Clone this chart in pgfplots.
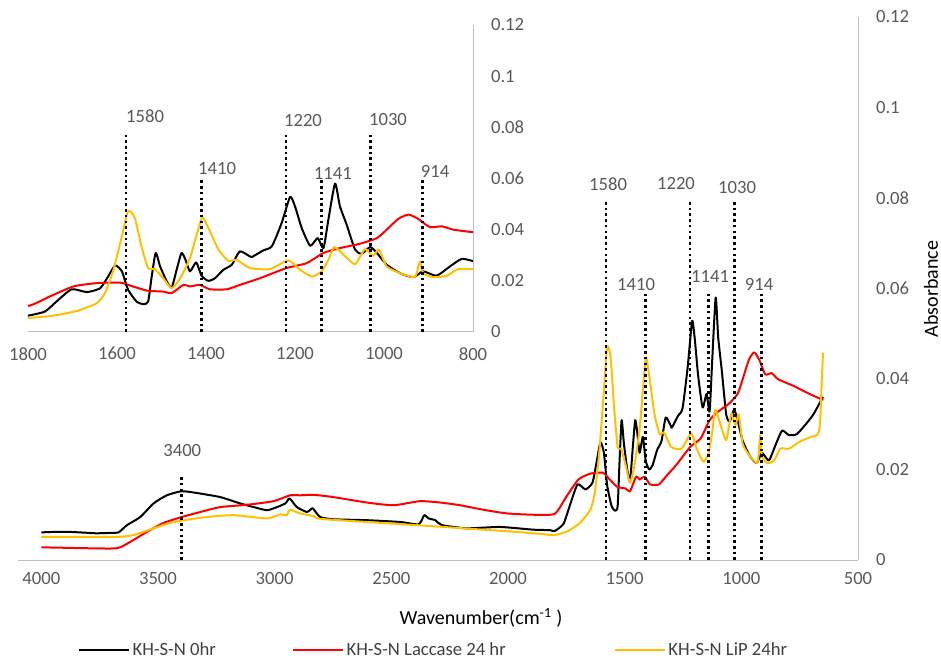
\documentclass[border=0pt]{standalone}
\usepackage{fontspec}
\setmainfont{Carlito}
\usepackage{pgfplots}
\pgfplotsset{compat=1.18}
\usepackage{pgfplotstable}
\definecolor{lineyellow}{RGB}{255,192,0}
\definecolor{linered}{RGB}{255,0,0}
\definecolor{axgray}{RGB}{191,191,191}
\definecolor{txtgray}{RGB}{89,89,89}
\definecolor{legtxt}{RGB}{64,64,64}

\pgfplotstableread{
w v
4000 0.0061
3950 0.0062
3876 0.0062
3800 0.0060
3762 0.0059
3700 0.0060
3669 0.0061
3633 0.0077
3576 0.0095
3519 0.0125
3462 0.0143
3398 0.0152
3333 0.0148
3233 0.0139
3148 0.0125
3090 0.0117
3033 0.0110
2990 0.0117
2954 0.0125
2936 0.0136
2905 0.0117
2862 0.0106
2845 0.0112
2836 0.0114
2805 0.0095
2748 0.0090
2605 0.0088
2462 0.0084
2383 0.0079
2359 0.0099
2341 0.0092
2312 0.0088
2283 0.0077
2176 0.0070
2034 0.0073
1891 0.0067
1820 0.0066
1800 0.0064
1762 0.0080
1736 0.0119
1702 0.0167
1668 0.0156
1638 0.0171
1620 0.0217
1604 0.0260
1589 0.0237
1575 0.0165
1556 0.0119
1541 0.0109
1530 0.0119
1522 0.0217
1513 0.0309
1503 0.0256
1488 0.0197
1477 0.0174
1466 0.0243
1455 0.0309
1446 0.0282
1436 0.0237
1422 0.0272
1410 0.0220
1395 0.0200
1380 0.0210
1361 0.0243
1342 0.0263
1324 0.0315
1301 0.0295
1297 0.0293
1271 0.0319
1252 0.0335
1230 0.0426
1211 0.0528
1200 0.0491
1185 0.0407
1166 0.0337
1149 0.0367
1136 0.0328
1125 0.0439
1110 0.0580
1099 0.0491
1084 0.0420
1065 0.0322
1050 0.0306
1031 0.0332
1016 0.0309
994 0.0263
964 0.0230
934 0.0214
912 0.0237
882 0.0220
852 0.0256
825 0.0286
796 0.0276
763 0.0278
727 0.0298
691 0.0322
656 0.0355
650 0.0360
}\blackdata

\pgfplotstableread{
w v
4000 0.0028
3900 0.0027
3805 0.0026
3676 0.0026
3619 0.0040
3548 0.0062
3476 0.0082
3398 0.0095
3319 0.0106
3233 0.0117
3119 0.0122
3005 0.0130
2934 0.0143
2891 0.0143
2833 0.0144
2748 0.0139
2605 0.0127
2491 0.0121
2377 0.0130
2291 0.0127
2205 0.0121
2105 0.0111
2005 0.0103
1891 0.0100
1800 0.0102
1751 0.0139
1698 0.0178
1646 0.0191
1593 0.0193
1575 0.0184
1533 0.0162
1496 0.0158
1477 0.0152
1451 0.0184
1436 0.0178
1414 0.0184
1391 0.0167
1353 0.0167
1324 0.0184
1279 0.0210
1219 0.0250
1174 0.0269
1136 0.0309
1099 0.0328
1054 0.0345
1016 0.0367
994 0.0400
968 0.0442
945 0.0459
923 0.0442
897 0.0410
870 0.0413
844 0.0400
796 0.0389
777 0.0385
720 0.0370
656 0.0355
650 0.0355
}\reddata

\pgfplotstableread{
w v
4000 0.0051
3805 0.0051
3676 0.0051
3605 0.0055
3519 0.0070
3448 0.0082
3376 0.0089
3290 0.0095
3176 0.0099
3033 0.0092
2976 0.0101
2948 0.0099
2934 0.0111
2891 0.0103
2834 0.0097
2805 0.0091
2605 0.0084
2391 0.0077
2248 0.0072
2105 0.0067
1962 0.0062
1848 0.0057
1800 0.0055
1743 0.0064
1691 0.0082
1646 0.0112
1627 0.0152
1608 0.0243
1589 0.0374
1575 0.0472
1560 0.0446
1545 0.0335
1530 0.0250
1515 0.0246
1496 0.0210
1477 0.0171
1458 0.0210
1436 0.0289
1421 0.0380
1408 0.0448
1391 0.0393
1372 0.0322
1350 0.0278
1331 0.0282
1301 0.0250
1256 0.0246
1215 0.0280
1189 0.0243
1162 0.0217
1140 0.0237
1125 0.0282
1112 0.0332
1091 0.0302
1065 0.0265
1043 0.0324
1025 0.0298
1011 0.0322
994 0.0256
964 0.0230
934 0.0214
927 0.0227
919 0.0276
912 0.0230
889 0.0214
859 0.0220
833 0.0246
796 0.0246
748 0.0262
706 0.0271
674 0.0277
663 0.0300
655 0.0400
650 0.0458
}\yellowdata

\tikzset{ann/.style={font=\fontsize{14}{16}\selectfont, text=txtgray}}

\begin{document}
\begin{tikzpicture}
\path[use as bounding box] (0,0) rectangle (705.75pt,497.25pt);
\pgfplotsset{
  base/.style={
    scale only axis, x dir=reverse, ymin=0, ymax=0.12,
    axis x line*=bottom, axis y line*=right,
    axis line style={axgray, line width=0.75pt, -},
    major tick length=0pt,
    tick label style={font=\fontsize{14}{16}\selectfont, text=txtgray},
    /pgf/number format/assume math mode=true,
    ytick={0,0.02,0.04,0.06,0.08,0.1,0.12},
    yticklabels={0,0.02,0.04,0.06,0.08,0.1,0.12},
    yticklabel style={xshift=10pt},
  },
  spec/.style={line width=1.5pt, line join=round, smooth, tension=0.35},
  dotl/.style={black, line width=1.9pt, dash pattern=on 1.9pt off 2.4pt, forget plot},
}
% main axis
\begin{axis}[base,
  at={(13.5pt,77.25pt)}, anchor=south west,
  width=630pt, height=407.25pt,
  xmin=500, xmax=4100,
  xtick={500,1000,1500,2000,2500,3000,3500,4000},
  xticklabels={500,1000,1500,2000,2500,3000,3500,4000},
  xticklabel style={yshift=-6pt},
  legend style={at={(0.4952,-0.166)}, anchor=center, draw=none, fill=none,
    legend columns=3, font=\fontsize{14}{16}\selectfont, text=legtxt,
    /tikz/column 2/.style={column sep=55pt},
    /tikz/column 4/.style={column sep=79pt}},
  legend image code/.code={\draw[#1, sharp plot] (0pt,0pt) -- (37.5pt,0pt);},
]
\addplot[spec, black] table[x=w,y=v]{\blackdata};
\addlegendentry{KH-S-N 0hr}
\addplot[spec, linered] table[x=w,y=v]{\reddata};
\addlegendentry{KH-S-N Laccase 24 hr}
\addplot[spec, lineyellow] table[x=w,y=v]{\yellowdata};
\addlegendentry{KH-S-N LiP 24hr}
\addplot[dotl] coordinates {(3400,0) (3400,0.0187)};
\addplot[dotl] coordinates {(1580,0) (1580,0.0791)};
\addplot[dotl] coordinates {(1220,0) (1220,0.0791)};
\addplot[dotl] coordinates {(1030,0) (1030,0.0791)};
\addplot[dotl] coordinates {(1410,0) (1410,0.0589)};
\addplot[dotl] coordinates {(1141,0) (1141,0.0589)};
\addplot[dotl] coordinates {(914,0) (914,0.0589)};
\node[ann] at (axis cs:3396,0.0242) {3400};
\node[ann] at (axis cs:1571,0.0831) {1580};
\node[ann] at (axis cs:1280,0.0831) {1220};
\node[ann] at (axis cs:1018,0.0824) {1030};
\node[ann] at (axis cs:1451,0.0609) {1410};
\node[ann] at (axis cs:1134,0.0626) {1141};
\node[ann] at (axis cs:924,0.0609) {914};
\end{axis}
% inset
\begin{axis}[base,
  at={(21pt,248.25pt)}, anchor=south west,
  width=333.75pt, height=230.25pt,
  xmin=800, xmax=1800,
  xtick={800,1000,1200,1400,1600,1800},
  xticklabels={800,1000,1200,1400,1600,1800},
  xticklabel style={yshift=-8pt},
]
\addplot[spec, black] table[x=w,y=v]{\blackdata};
\addplot[spec, linered] table[x=w,y=v]{\reddata};
\addplot[spec, lineyellow] table[x=w,y=v]{\yellowdata};
\addplot[dotl] coordinates {(1580,0) (1580,0.0784)};
\addplot[dotl] coordinates {(1220,0) (1220,0.0784)};
\addplot[dotl] coordinates {(1030,0) (1030,0.0784)};
\addplot[dotl] coordinates {(1410,0) (1410,0.0596)};
\addplot[dotl] coordinates {(1141,0) (1141,0.0596)};
\addplot[dotl] coordinates {(914,0) (914,0.0596)};
\node[ann] at (axis cs:1537,0.0843) {1580};
\node[ann] at (axis cs:1375,0.0639) {1410};
\node[ann] at (axis cs:1182,0.0827) {1220};
\node[ann] at (axis cs:1115,0.0620) {1141};
\node[ann] at (axis cs:991,0.0831) {1030};
\node[ann] at (axis cs:885,0.0627) {914};
\end{axis}
\node[font=\fontsize{15}{17}\selectfont, text=black] at (360.75pt,33.75pt) {Wavenumber(cm\textsuperscript{-1} )};
\node[font=\fontsize{15}{17}\selectfont, text=black, rotate=90] at (698.25pt,280.5pt) {Absorbance};
\end{tikzpicture}
\end{document}
